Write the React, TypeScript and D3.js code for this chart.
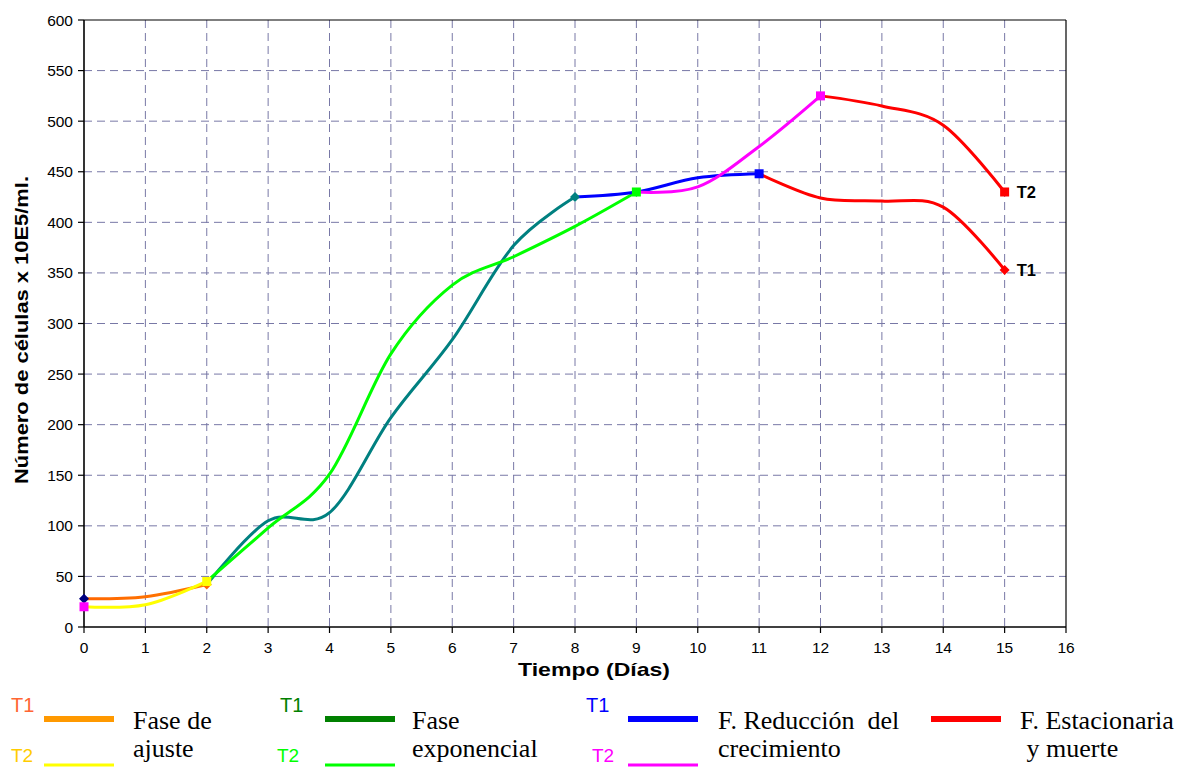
import React from "react";
import * as d3 from "d3";

const xTicks = d3.range(0, 17);
const yTicks = d3.range(0, 601, 50);

// Phase segments (days, cells x 10E5/ml)
const ajusteT1: [number, number][] = [[0, 28], [1, 30], [2, 42]];
const ajusteT2: [number, number][] = [[0, 20], [1, 22], [2, 45]];
const expT1: [number, number][] = [[2, 42], [3, 105], [4, 113], [5, 207], [6, 284], [7, 377], [8, 425]];
const expT2: [number, number][] = [[2, 45], [3, 98], [4, 151], [5, 270], [6, 338], [7, 366], [8, 396], [9, 430]];
const redT1: [number, number][] = [[8, 425], [9, 430], [10, 444], [11, 448]];
const redT2: [number, number][] = [[9, 430], [10, 435], [11, 475], [12, 525]];
const estT1: [number, number][] = [[11, 448], [12, 424], [13, 421], [14, 415], [15, 353]];
const estT2: [number, number][] = [[12, 525], [13, 515], [14, 496], [15, 430]];

const series = [
  { data: ajusteT1, color: "url(#orangeGrad)" },
  { data: ajusteT2, color: "#ffff00" },
  { data: expT1, color: "#008080" },
  { data: expT2, color: "#00ff00" },
  { data: redT1, color: "#0000ff" },
  { data: redT2, color: "#ff00ff" },
  { data: estT1, color: "#ff0000" },
  { data: estT2, color: "#ff0000" },
];

const markers = [
  { p: [0, 28], shape: "diamond", color: "#000080" },
  { p: [0, 20], shape: "square", color: "#ff00ff" },
  { p: [2, 42], shape: "diamond", color: "#ff6600" },
  { p: [2, 45], shape: "square", color: "#ffff00" },
  { p: [8, 425], shape: "diamond", color: "#008080" },
  { p: [9, 430], shape: "square", color: "#00ff00" },
  { p: [11, 448], shape: "square", color: "#0000ff" },
  { p: [12, 525], shape: "square", color: "#ff00ff" },
  { p: [15, 353], shape: "diamond", color: "#ff0000" },
  { p: [15, 430], shape: "square", color: "#ff0000" },
];

const endLabels = [
  { p: [15, 430], text: "T2" },
  { p: [15, 353], text: "T1" },
];

const legendGroups = [
  { t1x: 11, t2x: 11, lineX: 44, t1Color: "#ff6633", t2Color: "#ffcc00", l1: "#ff9900", l2: "#ffff00", lines: ["Fase de", "ajuste"], textX: 133 },
  { t1x: 280, t2x: 277, lineX: 325, t1Color: "#008000", t2Color: "#00ff00", l1: "#008000", l2: "#00ff00", lines: ["Fase", "exponencial"], textX: 412 },
  { t1x: 586, t2x: 592, lineX: 628, t1Color: "#0000ff", t2Color: "#ff00ff", l1: "#0000ff", l2: "#ff00ff", lines: ["F. Reducción\u00a0 del", "crecimiento"], textX: 718 },
  { t1x: -1, t2x: -1, lineX: 931, t1Color: "", t2Color: "", l1: "#ff0000", l2: "", lines: ["F. Estacionaria", "\u00a0y muerte"], textX: 1020 },
];

export default function App() {
  const x = d3.scaleLinear().domain([0, 16]).range([84, 1066]);
  const y = d3.scaleLinear().domain([0, 600]).range([627, 20]);
  const line = d3
    .line<[number, number]>()
    .x((d) => x(d[0]))
    .y((d) => y(d[1]))
    .curve(d3.curveCardinal.tension(0));

  const gridColor = "#7878a6";
  const sans = "Liberation Sans, Arial";
  const serif = "Liberation Serif, Times New Roman";

  return (
    <svg width={1180} height={767} style={{ position: "absolute", left: 0, top: 0, background: "#fff" }}>
      <defs>
        <linearGradient id="orangeGrad" gradientUnits="userSpaceOnUse" x1={x(0)} x2={x(2)} y1={0} y2={0}>
          <stop offset="0" stopColor="#ff6600" />
          <stop offset="1" stopColor="#ff7a00" />
        </linearGradient>
      </defs>
      <rect x={0} y={0} width={1180} height={767} fill="#fff" />
      {/* grid */}
      {xTicks.slice(1, -1).map((t) => (
        <line key={"gx" + t} x1={x(t)} x2={x(t)} y1={y(600)} y2={y(0)} stroke={gridColor} strokeWidth={1} strokeDasharray="8,5" />
      ))}
      {yTicks.slice(1, -1).map((t) => (
        <line key={"gy" + t} x1={x(0)} x2={x(16)} y1={y(t)} y2={y(t)} stroke={gridColor} strokeWidth={1} strokeDasharray="8,5" />
      ))}
      {/* frame */}
      <line x1={x(0)} x2={x(16)} y1={y(600)} y2={y(600)} stroke="#000" strokeWidth={1.2} />
      <line x1={x(16)} x2={x(16)} y1={y(600)} y2={y(0)} stroke="#000" strokeWidth={1.2} />
      <line x1={x(0)} x2={x(0)} y1={y(600)} y2={y(0)} stroke="#000" strokeWidth={1.6} />
      <line x1={x(0)} x2={x(16)} y1={y(0)} y2={y(0)} stroke="#000" strokeWidth={1.6} />
      {/* ticks */}
      {yTicks.map((t) => (
        <g key={"ty" + t}>
          <line x1={x(0) - 6} x2={x(0)} y1={y(t)} y2={y(t)} stroke="#000" strokeWidth={1.2} />
          <text x={x(0) - 11} y={y(t) + 5.5} textAnchor="end" fontFamily={sans} fontSize={15.5}>
            {t}
          </text>
        </g>
      ))}
      {xTicks.map((t) => (
        <g key={"tx" + t}>
          <line x1={x(t)} x2={x(t)} y1={y(0)} y2={y(0) + 6} stroke="#000" strokeWidth={1.2} />
          <text x={x(t)} y={y(0) + 26} textAnchor="middle" fontFamily={sans} fontSize={15.5}>
            {t}
          </text>
        </g>
      ))}
      {/* axis titles */}
      <text x={594} y={676} textAnchor="middle" fontFamily={sans} fontWeight="bold" fontSize={19} textLength={152} lengthAdjust="spacingAndGlyphs">
        Tiempo (Días)
      </text>
      <text
        transform={`translate(28, 330) rotate(-90)`}
        textAnchor="middle"
        fontFamily={sans}
        fontWeight="bold"
        fontSize={18}
        textLength={308}
        lengthAdjust="spacingAndGlyphs"
      >
        Número de células x 10E5/ml.
      </text>
      {/* series */}
      {series.map((s, i) => (
        <path key={"s" + i} d={line(s.data) || ""} fill="none" stroke={s.color} strokeWidth={3} strokeLinecap="round" />
      ))}
      {markers.map((m, i) => {
        const cx = x(m.p[0]);
        const cy = y(m.p[1]);
        return m.shape === "square" ? (
          <rect key={"m" + i} x={cx - 4.5} y={cy - 4.5} width={9} height={9} fill={m.color} />
        ) : (
          <path key={"m" + i} d={`M${cx},${cy - 5}L${cx + 5},${cy}L${cx},${cy + 5}L${cx - 5},${cy}Z`} fill={m.color} />
        );
      })}
      {endLabels.map((l, i) => (
        <text key={"el" + i} x={x(l.p[0]) + 12} y={y(l.p[1]) + 6} fontFamily={sans} fontWeight="bold" fontSize={16.5}>
          {l.text}
        </text>
      ))}
      {/* legend */}
      {legendGroups.map((g, i) => (
        <g key={"lg" + i}>
          {g.t1x >= 0 && (
            <text x={g.t1x} y={712} fontFamily={sans} fontSize={20} fill={g.t1Color}>
              T1
            </text>
          )}
          {g.t2x >= 0 && (
            <text x={g.t2x} y={762} fontFamily={sans} fontSize={19} fill={g.t2Color}>
              T2
            </text>
          )}
          <line x1={g.lineX} x2={g.lineX + 70} y1={719} y2={719} stroke={g.l1} strokeWidth={6} />
          {g.l2 && <line x1={g.lineX} x2={g.lineX + 70} y1={765} y2={765} stroke={g.l2} strokeWidth={3} />}
          <text x={g.textX} y={729} fontFamily={serif} fontSize={26}>
            {g.lines[0]}
          </text>
          <text x={g.textX} y={757} fontFamily={serif} fontSize={26}>
            {g.lines[1]}
          </text>
        </g>
      ))}
    </svg>
  );
}
